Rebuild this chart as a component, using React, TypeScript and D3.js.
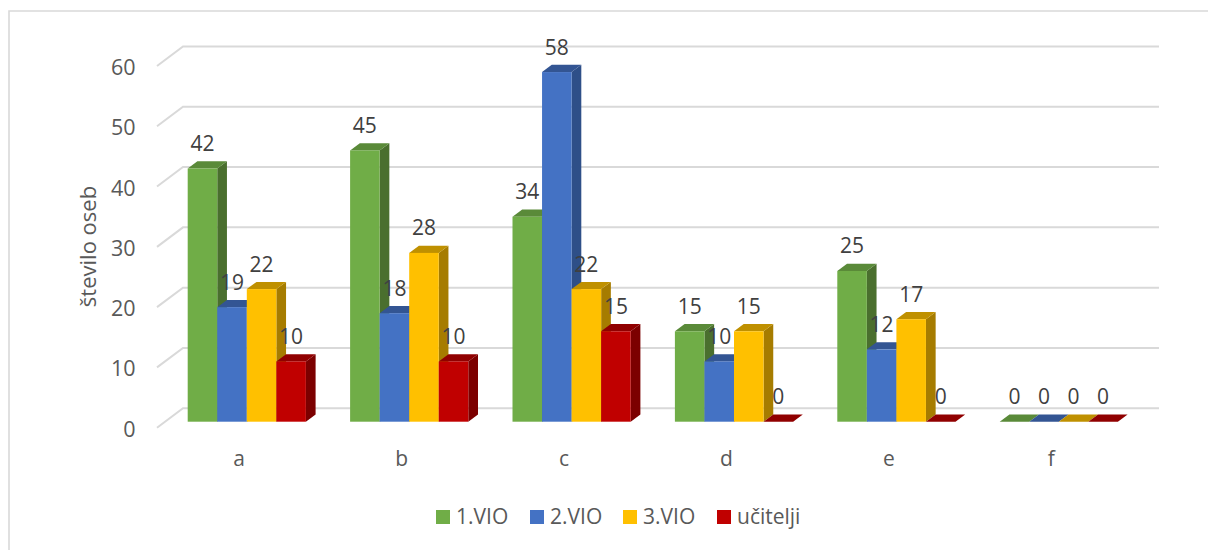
import React from "react";
import * as d3 from "d3";

const categories = ["a", "b", "c", "d", "e", "f"];
const seriesNames = ["1.VIO", "2.VIO", "3.VIO", "učitelji"];
const vio1 = [42, 45, 34, 15, 25, 0];
const vio2 = [19, 18, 58, 10, 12, 0];
const vio3 = [22, 28, 22, 15, 17, 0];
const teachers = [10, 10, 15, 0, 0, 0];
const yTicks = [0, 10, 20, 30, 40, 50, 60];

const frontColors = ["#70ad47", "#4472c4", "#ffc000", "#c00000"];
const topColors = ["#5a8a39", "#335593", "#bf9000", "#900000"];
const sideColors = ["#4a6f2e", "#2e4f88", "#a67c00", "#7c0000"];

const FONT = "'Open Sans', sans-serif";
const TEXT = "#595959";
const LABEL = "#404040";
const GRID = "#d9d9d9";

const y = d3.scaleLinear().domain([0, 60]).range([421.7, 60]);
const groupX = d3.scaleBand<string>().domain(categories).range([187.7, 1162.1]).paddingInner(0).paddingOuter(0);
const BAR_W = 29.55;
const DX = 9.7;
const DY = 7.2;
const poly = (pts: number[][]) => pts.map((p) => p.join(",")).join(" ");

export default function App() {
  const allSeries = [vio1, vio2, vio3, teachers];
  const legendX = [436, 530, 623, 717];
  return (
    <svg
      width={1208}
      height={550}
      style={{ position: "absolute", left: 0, top: 0, background: "#fff" }}
      fontFamily={FONT}
    >
      {/* chart frame: only the left and top edges fall inside the view */}
      <path d="M9,550 V11 H1208" fill="none" stroke={GRID} strokeWidth={1.6} />

      {/* back wall gridlines with the slanted wall returns */}
      {yTicks.map((t) => (
        <polyline
          key={t}
          points={poly([
            [157, y(t) + 6],
            [183, y(t) - 13.5],
            [1159, y(t) - 13.5],
          ])}
          fill="none"
          stroke={GRID}
          strokeWidth={2}
        />
      ))}

      {yTicks.map((t) => (
        <text key={t} x={135.5} y={y(t) + 15} textAnchor="end" fontSize={21.5} fill={TEXT}>
          {t}
        </text>
      ))}

      <text
        transform="translate(87,246.5) rotate(-90)"
        textAnchor="middle"
        dominantBaseline="central"
        fontSize={22}
        fill={TEXT}
      >
        število oseb
      </text>

      {/* 3D columns, painted left to right so each one overlaps its neighbour's side */}
      {categories.map((c, ci) => {
        const x0 = groupX(c)!;
        return (
          <g key={c}>
            {allSeries.map((vals, si) => {
              const v = vals[ci];
              const l = x0 + si * BAR_W;
              const r = l + BAR_W;
              const t = y(v);
              const b = y(0);
              return (
                <g key={si}>
                  {v > 0 && (
                    <polygon
                      points={poly([
                        [r, t],
                        [r + DX, t - DY],
                        [r + DX, b - DY],
                        [r, b],
                      ])}
                      fill={sideColors[si]}
                    />
                  )}
                  <polygon
                    points={poly([
                      [l, t],
                      [l + DX, t - DY],
                      [r + DX, t - DY],
                      [r, t],
                    ])}
                    fill={topColors[si]}
                  />
                  {v > 0 && <rect x={l} y={t} width={BAR_W} height={b - t} fill={frontColors[si]} />}
                </g>
              );
            })}
          </g>
        );
      })}

      {/* value labels sit above every column */}
      {categories.map((c, ci) =>
        allSeries.map((vals, si) => (
          <text
            key={`${c}-${si}`}
            x={groupX(c)! + si * BAR_W + BAR_W / 2}
            y={y(vals[ci]) - 17.5}
            textAnchor="middle"
            fontSize={21}
            fill={LABEL}
          >
            {vals[ci]}
          </text>
        ))
      )}

      {categories.map((c) => (
        <text key={c} x={groupX(c)! + 51.5} y={466} textAnchor="middle" fontSize={21} fill={TEXT}>
          {c}
        </text>
      ))}

      {seriesNames.map((name, i) => (
        <g key={name}>
          <rect x={legendX[i]} y={510} width={14} height={14} fill={frontColors[i]} />
          <text x={legendX[i] + 20} y={524} fontSize={21} fill={TEXT}>
            {name}
          </text>
        </g>
      ))}
    </svg>
  );
}
